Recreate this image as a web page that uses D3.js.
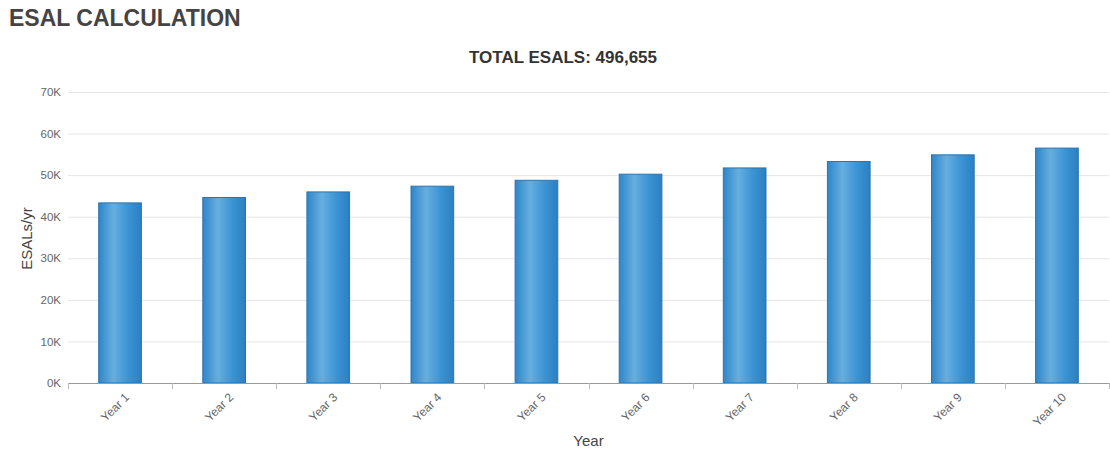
<!DOCTYPE html>
<html>
<head>
<meta charset="utf-8">
<script src="https://cdn.jsdelivr.net/npm/d3@7"></script>
<style>
  html, body { margin: 0; padding: 0; background: #fff; }
  svg { display: block; font-family: "Liberation Sans", Arial, sans-serif; }
</style>
</head>
<body>
<svg id="chart" width="1110" height="450"></svg>
<script>
// Annual ESAL values per design year
const years = ["Year 1", "Year 2", "Year 3", "Year 4", "Year 5", "Year 6", "Year 7", "Year 8", "Year 9", "Year 10"];
const esals = [43325, 44625, 45964, 47343, 48763, 50226, 51733, 53285, 54883, 56508];
const yTicks = [0, 10000, 20000, 30000, 40000, 50000, 60000, 70000];

const pageTitle = "ESAL CALCULATION";
const chartTitle = "TOTAL ESALS: " + d3.format(",")(d3.sum(esals));
const xTitle = "Year";
const yTitle = "ESALs/yr";

const svg = d3.select("#chart");
const margin = { left: 68, right: 1, top: 92, bottom: 67 };
const W = 1110, H = 450;

const x = d3.scaleBand().domain(years).range([margin.left, W - margin.right]).paddingInner(0.59).paddingOuter(0.295);
const y = d3.scaleLinear().domain([0, 70000]).range([H - margin.bottom, margin.top]);

// bar gradient: light streak left of centre, darker edges
const defs = svg.append("defs");
const grad = defs.append("linearGradient").attr("id", "barGrad").attr("x1", "0").attr("x2", "1").attr("y1", "0").attr("y2", "0");
[["0%", "#2f86c8"], ["35%", "#66aee0"], ["70%", "#3a93d3"], ["100%", "#2c80c2"]].forEach(([o, c]) =>
  grad.append("stop").attr("offset", o).attr("stop-color", c));

// titles
svg.append("text").attr("x", 9).attr("y", 26).attr("font-size", 23).attr("font-weight", "bold")
  .attr("fill", "#444").text(pageTitle);
svg.append("text").attr("x", 563).attr("y", 63).attr("text-anchor", "middle").attr("font-size", 17)
  .attr("font-weight", "bold").attr("fill", "#333").text(chartTitle);

// gridlines + y labels
const yAxis = d3.axisLeft(y).tickValues(yTicks).tickFormat(d => (d / 1000) + "K").tickSize(-(W - margin.right - margin.left)).tickPadding(7);
const gy = svg.append("g").attr("transform", `translate(${margin.left},0)`).call(yAxis);
gy.select(".domain").remove();
gy.selectAll(".tick line").attr("stroke", "#e6e6e6");
gy.selectAll(".tick text").attr("fill", "#666").attr("font-size", 11.5).attr("font-family", "Liberation Sans, Arial, sans-serif");

// bars
svg.append("g").selectAll("rect").data(esals).join("rect")
  .attr("x", (d, i) => x(years[i]))
  .attr("y", d => y(d))
  .attr("width", x.bandwidth())
  .attr("height", d => y(0) - y(d))
  .attr("fill", "url(#barGrad)")
  .attr("stroke", "#2a74ae")
  .attr("stroke-width", 1);

// x axis
const step = x.step();
const gx = svg.append("g").attr("transform", `translate(0,${y(0)})`);
gx.append("line").attr("x1", margin.left).attr("x2", W - margin.right).attr("y1", 0.5).attr("y2", 0.5).attr("stroke", "#999");
const boundaries = d3.range(years.length + 1).map(i => margin.left + i * step);
gx.selectAll("line.tk").data(boundaries).join("line").attr("class", "tk")
  .attr("x1", d => Math.round(d) + 0.5).attr("x2", d => Math.round(d) + 0.5)
  .attr("y1", 0).attr("y2", 6).attr("stroke", "#bbb");
gx.selectAll("text").data(years).join("text")
  .attr("transform", d => `translate(${x(d) + x.bandwidth() / 2 + 10},${15}) rotate(-45)`)
  .attr("text-anchor", "end").attr("font-size", 12).attr("fill", "#666").text(d => d);

// axis titles
svg.append("text").attr("x", (margin.left + W - margin.right) / 2).attr("y", 446).attr("text-anchor", "middle")
  .attr("font-size", 15).attr("fill", "#444").text(xTitle);
svg.append("text").attr("transform", `translate(32,${(margin.top + H - margin.bottom) / 2 + 1}) rotate(-90)`)
  .attr("text-anchor", "middle").attr("font-size", 15).attr("fill", "#444").text(yTitle);
</script>
</body>
</html>
